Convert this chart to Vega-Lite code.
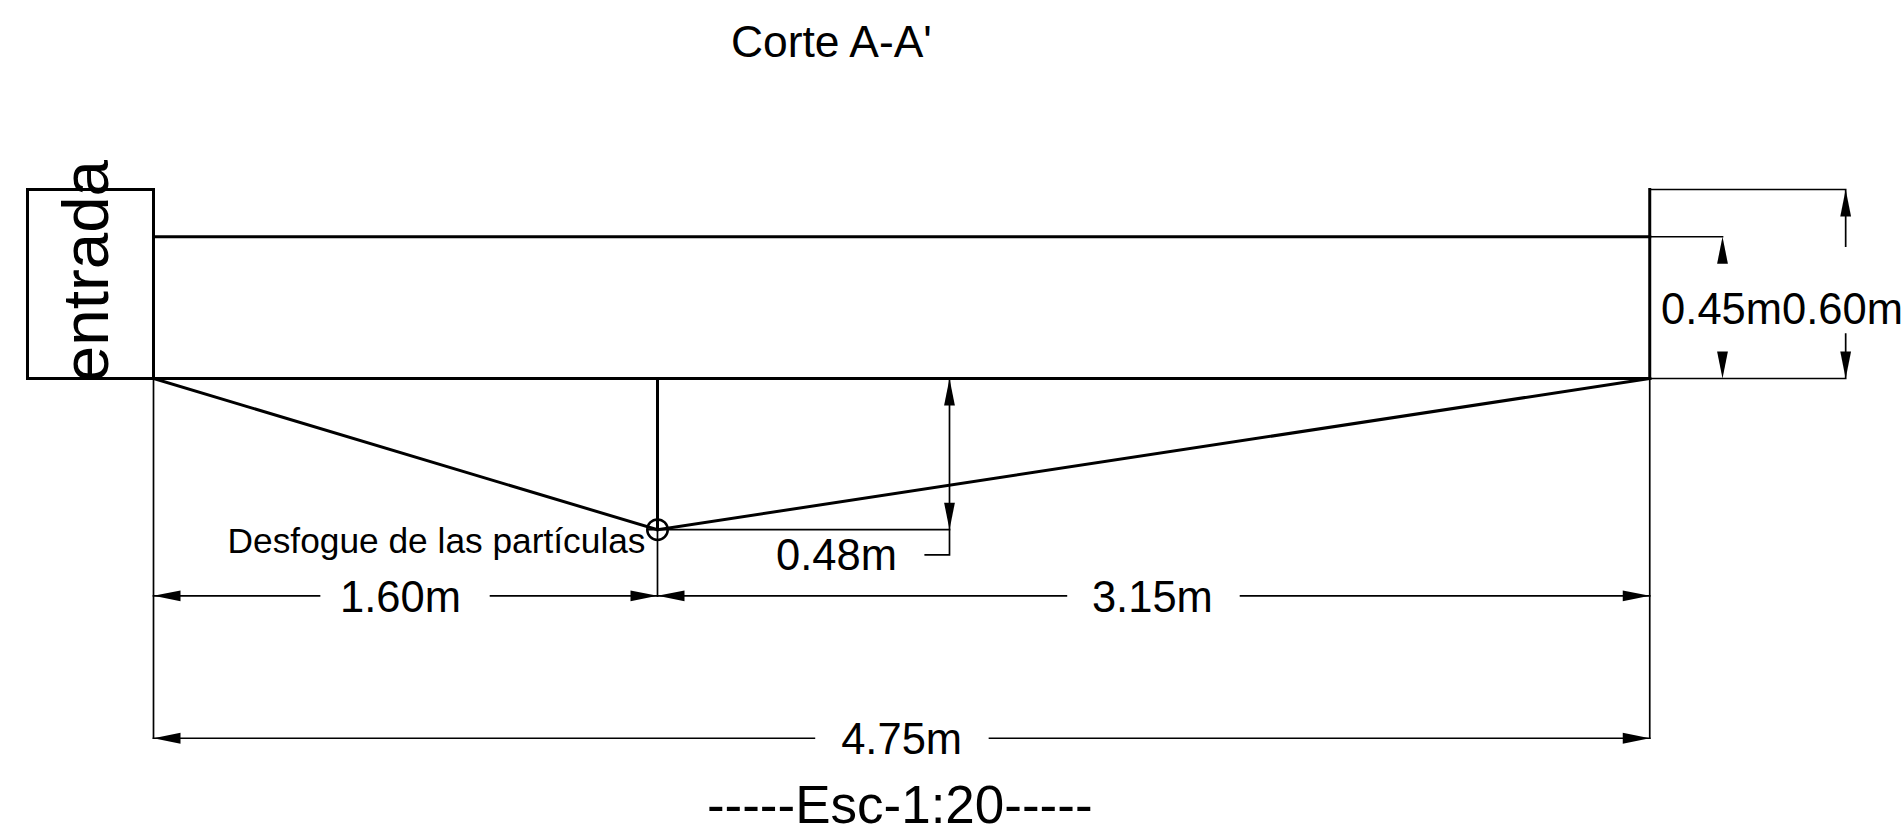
{"$schema":"https://vega.github.io/schema/vega-lite/v6.json","width":1903,"height":838,"padding":0,"autosize":{"type":"fit","contains":"padding"},"background":"white","config":{"view":{"stroke":null},"text":{"font":"Liberation Sans","color":"black"}},"datasets":{"lines":[
{"id":"box","n":1,"x":0,"y":0,"w":"thick"},{"id":"box","n":2,"x":-0.4,"y":0,"w":"thick"},{"id":"box","n":3,"x":-0.4,"y":0.6,"w":"thick"},{"id":"box","n":4,"x":0,"y":0.6,"w":"thick"},{"id":"box","n":5,"x":0,"y":0,"w":"thick"},
{"id":"water","n":1,"x":0,"y":0.45,"w":"thick"},{"id":"water","n":2,"x":4.75,"y":0.45,"w":"thick"},
{"id":"floor","n":1,"x":0,"y":0,"w":"thick"},{"id":"floor","n":2,"x":4.75,"y":0,"w":"thick"},
{"id":"hopper","n":1,"x":0,"y":0,"w":"thick"},{"id":"hopper","n":2,"x":1.6,"y":-0.48,"w":"thick"},{"id":"hopper","n":3,"x":4.75,"y":0,"w":"thick"},
{"id":"wall","n":1,"x":4.75,"y":0,"w":"thick"},{"id":"wall","n":2,"x":4.75,"y":0.6,"w":"thick"},
{"id":"drain","n":1,"x":1.6,"y":0,"w":"thick"},{"id":"drain","n":2,"x":1.6,"y":-0.48,"w":"thick"},
{"id":"ext0","n":1,"x":0,"y":0,"w":"thin"},{"id":"ext0","n":2,"x":0,"y":-1.142,"w":"thin"},
{"id":"ext160","n":1,"x":1.6,"y":-0.48,"w":"thin"},{"id":"ext160","n":2,"x":1.6,"y":-0.69,"w":"thin"},
{"id":"ext475","n":1,"x":4.75,"y":0,"w":"thin"},{"id":"ext475","n":2,"x":4.75,"y":-1.142,"w":"thin"},
{"id":"d160a","n":1,"x":0,"y":-0.69,"w":"thin"},{"id":"d160a","n":2,"x":0.527,"y":-0.69,"w":"thin"},
{"id":"d160b","n":1,"x":1.07,"y":-0.69,"w":"thin"},{"id":"d160b","n":2,"x":1.6,"y":-0.69,"w":"thin"},
{"id":"d315a","n":1,"x":1.6,"y":-0.69,"w":"thin"},{"id":"d315a","n":2,"x":2.898,"y":-0.69,"w":"thin"},
{"id":"d315b","n":1,"x":3.451,"y":-0.69,"w":"thin"},{"id":"d315b","n":2,"x":4.75,"y":-0.69,"w":"thin"},
{"id":"d475a","n":1,"x":0,"y":-1.142,"w":"thin"},{"id":"d475a","n":2,"x":2.098,"y":-1.142,"w":"thin"},
{"id":"d475b","n":1,"x":2.654,"y":-1.142,"w":"thin"},{"id":"d475b","n":2,"x":4.75,"y":-1.142,"w":"thin"},
{"id":"top60","n":1,"x":4.75,"y":0.6,"w":"thin"},{"id":"top60","n":2,"x":5.372,"y":0.6,"w":"thin"},{"id":"top60","n":3,"x":5.372,"y":0.42,"w":"thin"},
{"id":"bot60","n":1,"x":4.75,"y":0,"w":"thin"},{"id":"bot60","n":2,"x":5.372,"y":0,"w":"thin"},{"id":"bot60","n":3,"x":5.372,"y":0.141,"w":"thin"},
{"id":"top45","n":1,"x":4.75,"y":0.45,"w":"thin"},{"id":"top45","n":2,"x":4.981,"y":0.45,"w":"thin"},
{"id":"d48","n":1,"x":1.6,"y":-0.48,"w":"thin"},{"id":"d48","n":2,"x":2.527,"y":-0.48,"w":"thin"},
{"id":"d48v","n":1,"x":2.527,"y":0,"w":"thin"},{"id":"d48v","n":2,"x":2.527,"y":-0.56,"w":"thin"},{"id":"d48v","n":3,"x":2.45,"y":-0.56,"w":"thin"},
{"id":"cross","n":1,"x":1.57,"y":-0.48,"w":"thin"},{"id":"cross","n":2,"x":1.6,"y":-0.48,"w":"thin"}
],"arrows":[
{"x":0,"y":-0.69,"dir":"left"},{"x":1.6,"y":-0.69,"dir":"right"},{"x":1.6,"y":-0.69,"dir":"left"},{"x":4.75,"y":-0.69,"dir":"right"},
{"x":0,"y":-1.142,"dir":"left"},{"x":4.75,"y":-1.142,"dir":"right"},
{"x":5.372,"y":0.6,"dir":"up"},{"x":5.372,"y":0,"dir":"down"},
{"x":4.981,"y":0.45,"dir":"up"},{"x":4.981,"y":0,"dir":"down"},
{"x":2.527,"y":0,"dir":"up"},{"x":2.527,"y":-0.48,"dir":"down"}
],"labels":[
{"x":2.152,"y":1.02,"label":"Corte A-A'","kind":"title"},
{"x":4.978,"y":0.173,"label":"0.45m","kind":"dim"},
{"x":5.362,"y":0.173,"label":"0.60m","kind":"dim"},
{"x":0.784,"y":-0.74,"label":"1.60m","kind":"dim"},
{"x":3.171,"y":-0.74,"label":"3.15m","kind":"dim"},
{"x":2.168,"y":-0.608,"label":"0.48m","kind":"dim"},
{"x":2.375,"y":-1.192,"label":"4.75m","kind":"dim"},
{"x":2.369,"y":-1.411,"label":"-----Esc-1:20-----","kind":"scale"}
]},
"encoding":{"x":{"field":"x","type":"quantitative","scale":{"domain":[-0.4873,5.554],"nice":false,"zero":false},"axis":null},"y":{"field":"y","type":"quantitative","scale":{"domain":[-1.4587,1.2016],"nice":false,"zero":false},"axis":null}},
"layer":[
{"data":{"name":"lines"},"mark":{"type":"line","color":"black","strokeCap":"square","strokeJoin":"miter"},"encoding":{"detail":{"field":"id"},"order":{"field":"n","type":"quantitative"},"strokeWidth":{"field":"w","type":"nominal","scale":{"type":"ordinal","domain":["thick","thin"],"range":[3,1.7]},"legend":null}}},
{"data":{"name":"arrows"},"mark":{"type":"point","filled":true,"color":"black","opacity":1,"size":729},"encoding":{"shape":{"field":"dir","type":"nominal","scale":{"domain":["left","right","up","down"],"range":["M0,0L2,-0.4L2,0.4Z","M0,0L-2,-0.4L-2,0.4Z","M0,0L-0.4,2L0.4,2Z","M0,0L-0.4,-2L0.4,-2Z"]},"legend":null}}},
{"data":{"values":[{"x":1.6,"y":-0.48}]},"mark":{"type":"point","filled":false,"stroke":"black","strokeWidth":2.5,"size":420,"shape":"circle","opacity":1}},
{"data":{"name":"labels"},"mark":{"type":"text","align":"center","baseline":"alphabetic","font":"Liberation Sans"},"encoding":{"text":{"field":"label"},"size":{"field":"kind","type":"nominal","scale":{"type":"ordinal","domain":["dim","scale","title"],"range":[43.5,53,44.4]},"legend":null}}},
{"data":{"values":[{"x":1.562,"y":-0.554,"label":"Desfogue de las partículas"}]},"mark":{"type":"text","align":"right","baseline":"alphabetic","font":"Liberation Sans","fontSize":35.3},"encoding":{"text":{"field":"label"}}},
{"data":{"values":[{"x":-0.146,"y":0.341,"label":"entrada"}]},"mark":{"type":"text","align":"center","baseline":"alphabetic","angle":270,"font":"Liberation Sans","fontSize":65.5},"encoding":{"text":{"field":"label"}}}
]}
